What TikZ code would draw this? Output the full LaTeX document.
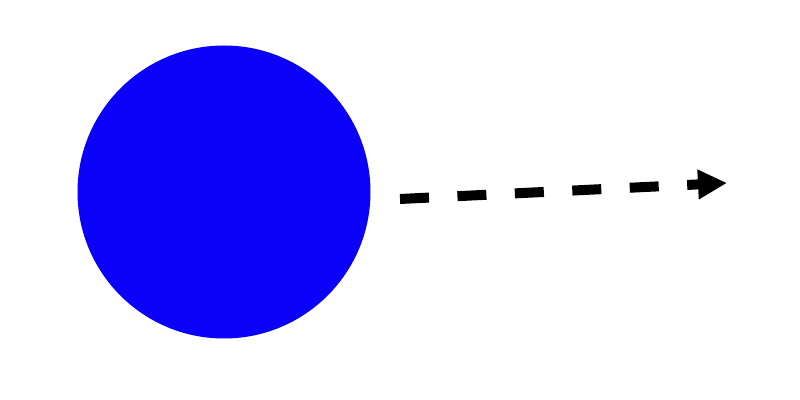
\documentclass[tikz,border=0pt]{standalone}
\usepackage{tikz}
\usetikzlibrary{arrows.meta}
\definecolor{ballfill}{RGB}{11,0,248}
\tikzset{
  ball/.style={
    circle,
    fill=ballfill,
    inner sep=0pt,
    minimum size=5.86cm
  },
  motion/.style={
    -{Triangle[length=5.8mm,width=5.6mm]},
    line width=2mm,
    dash pattern=on 5.8mm off 5.7mm
  }
}
\begin{document}
\begin{tikzpicture}[x=0.2mm, y=0.2mm]
  \useasboundingbox (0,0) rectangle (800,400);
  \node[ball] (body) at (224,208) {};

  \coordinate (tail) at (400,201);
  \coordinate (head) at (727,217);

  \draw[motion] (tail) -- (head);
\end{tikzpicture}
\end{document}
